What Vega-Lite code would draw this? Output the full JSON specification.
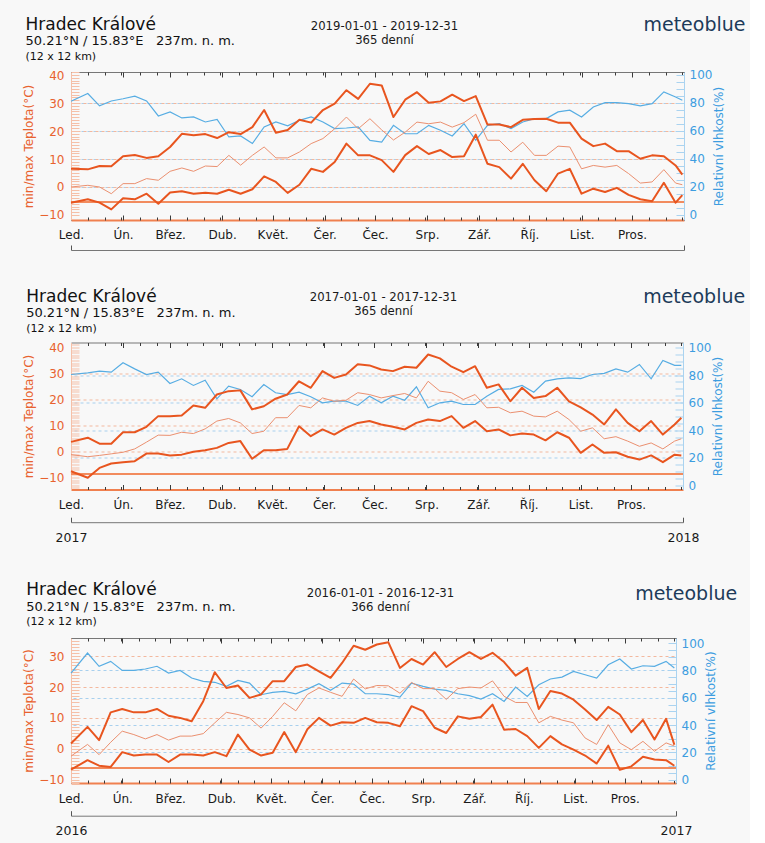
{
"$schema": "https://vega.github.io/schema/vega-lite/v6.json",
"background": "#f8f8f8",
"padding": {"left": 22, "top": 15, "right": 5, "bottom": 5},
"spacing": 35.5,
"config": {"view": {"stroke": null}, "font": "DejaVu Sans", "axis": {"labelFont": "DejaVu Sans", "titleFont": "DejaVu Sans", "titleFontWeight": "normal", "grid": false, "tickColor": "#3a3a3a"}},
"datasets": {
"p2019": [
{"d":"2019-01-01","mx":6.5,"me":0,"mn":-5.6,"h":81.2},
{"d":"2019-01-11","mx":6.3,"me":0.6,"mn":-4.4,"h":86.7},
{"d":"2019-01-18","mx":7.5,"me":0,"mn":-5.6,"h":77.9},
{"d":"2019-01-25","mx":7.4,"me":-2.4,"mn":-8,"h":81.4},
{"d":"2019-02-01","mx":11,"me":1.2,"mn":-4,"h":83},
{"d":"2019-02-08","mx":11.4,"me":1.2,"mn":-4.4,"h":84.8},
{"d":"2019-02-15","mx":10.4,"me":3,"mn":-2.4,"h":81.4},
{"d":"2019-02-22","mx":11,"me":2.4,"mn":-6,"h":70.7},
{"d":"2019-03-01","mx":14.3,"me":5.6,"mn":-2,"h":73.6},
{"d":"2019-03-08","mx":19,"me":6.8,"mn":-1.5,"h":69.3},
{"d":"2019-03-15","mx":18.5,"me":5.6,"mn":-2.4,"h":70},
{"d":"2019-03-22","mx":18.9,"me":7.5,"mn":-2.1,"h":66.4},
{"d":"2019-03-29","mx":17.5,"me":7.3,"mn":-2.4,"h":68.3},
{"d":"2019-04-05","mx":19.6,"me":11.3,"mn":-1,"h":55.7},
{"d":"2019-04-12","mx":18.9,"me":7.8,"mn":-2.4,"h":56.4},
{"d":"2019-04-19","mx":21.4,"me":11.3,"mn":-0.8,"h":51},
{"d":"2019-04-26","mx":27.5,"me":14.3,"mn":3.8,"h":62.9},
{"d":"2019-05-03","mx":19.4,"me":10.4,"mn":1.8,"h":66.4},
{"d":"2019-05-10","mx":20.4,"me":10.4,"mn":-2.1,"h":63.6},
{"d":"2019-05-17","mx":24,"me":12.5,"mn":0.8,"h":67.6},
{"d":"2019-05-24","mx":23,"me":15.5,"mn":6.5,"h":70},
{"d":"2019-05-31","mx":27.5,"me":17.3,"mn":5.4,"h":66.4},
{"d":"2019-06-07","mx":29.8,"me":20.8,"mn":8.9,"h":61.7},
{"d":"2019-06-14","mx":34.6,"me":25,"mn":15.5,"h":62.1},
{"d":"2019-06-21","mx":31.5,"me":20.8,"mn":11.3,"h":62.9},
{"d":"2019-06-28","mx":36.9,"me":24.4,"mn":11.3,"h":53.3},
{"d":"2019-07-05","mx":36.3,"me":20.4,"mn":9.6,"h":52.1},
{"d":"2019-07-12","mx":25,"me":16.8,"mn":5.4,"h":64},
{"d":"2019-07-19","mx":31.2,"me":19.6,"mn":11.4,"h":58},
{"d":"2019-07-26","mx":33.9,"me":23.2,"mn":14.6,"h":58},
{"d":"2019-08-02","mx":30.1,"me":22.6,"mn":11.8,"h":64},
{"d":"2019-08-09","mx":30.6,"me":23.2,"mn":13.2,"h":60.5},
{"d":"2019-08-16","mx":33,"me":21.4,"mn":10.7,"h":56.4},
{"d":"2019-08-23","mx":30.7,"me":23,"mn":11,"h":65.2},
{"d":"2019-08-30","mx":32.5,"me":26,"mn":18.7,"h":53.3},
{"d":"2019-09-06","mx":22.3,"me":16.7,"mn":8.3,"h":64},
{"d":"2019-09-13","mx":22.3,"me":16.7,"mn":7.1,"h":65.2},
{"d":"2019-09-20","mx":21.4,"me":12.5,"mn":3,"h":61.7},
{"d":"2019-09-27","mx":24,"me":16,"mn":8.3,"h":66.4},
{"d":"2019-10-04","mx":24.3,"me":11.3,"mn":2.4,"h":68.8},
{"d":"2019-10-11","mx":24.4,"me":11.3,"mn":-1.5,"h":68.8},
{"d":"2019-10-18","mx":23,"me":14.6,"mn":4.8,"h":73.6},
{"d":"2019-10-25","mx":23,"me":14.3,"mn":6.5,"h":74.8},
{"d":"2019-11-01","mx":17.3,"me":6.5,"mn":-2.4,"h":70},
{"d":"2019-11-08","mx":14.6,"me":7.7,"mn":-0.6,"h":77.1},
{"d":"2019-11-15","mx":15.5,"me":7.1,"mn":-1.8,"h":80.2},
{"d":"2019-11-22","mx":12.8,"me":7.7,"mn":-0.3,"h":80.2},
{"d":"2019-11-29","mx":12.8,"me":4.8,"mn":-2.8,"h":79.5},
{"d":"2019-12-06","mx":10.1,"me":1.4,"mn":-4.4,"h":77.9},
{"d":"2019-12-13","mx":11.3,"me":1.8,"mn":-5.1,"h":79.5},
{"d":"2019-12-20","mx":11,"me":6.2,"mn":1.5,"h":87.9},
{"d":"2019-12-27","mx":7.7,"me":1.4,"mn":-5.6,"h":84.3},
{"d":"2019-12-31","mx":4.4,"me":0.8,"mn":-2.9,"h":81.9}
],
"p2017": [
{"d":"2017-01-01","mx":3.7,"me":-1.2,"mn":-7.6,"h":80.4},
{"d":"2017-01-11","mx":5.3,"me":-2,"mn":-10.1,"h":81.6},
{"d":"2017-01-18","mx":3,"me":-1.5,"mn":-6.3,"h":82.8},
{"d":"2017-01-25","mx":3,"me":-0.9,"mn":-4.6,"h":82.1},
{"d":"2017-02-01","mx":7.4,"me":-0.3,"mn":-4.1,"h":88.9},
{"d":"2017-02-08","mx":7.4,"me":1,"mn":-3.7,"h":84.5},
{"d":"2017-02-15","mx":9.5,"me":3.6,"mn":-0.8,"h":80.4},
{"d":"2017-02-22","mx":13.6,"me":6.3,"mn":-0.8,"h":82.1},
{"d":"2017-03-01","mx":13.6,"me":6.2,"mn":-1.5,"h":73.9},
{"d":"2017-03-08","mx":13.8,"me":7.4,"mn":-1.2,"h":77.3},
{"d":"2017-03-15","mx":17.7,"me":6.9,"mn":-0.1,"h":72.5},
{"d":"2017-03-22","mx":16.8,"me":8.7,"mn":0.5,"h":76.3},
{"d":"2017-03-29","mx":21.9,"me":11.7,"mn":1.4,"h":62.8},
{"d":"2017-04-05","mx":23.2,"me":12.7,"mn":3.3,"h":72},
{"d":"2017-04-12","mx":23.5,"me":11,"mn":4,"h":69.6},
{"d":"2017-04-19","mx":16.2,"me":6.9,"mn":-2.8,"h":64.3},
{"d":"2017-04-26","mx":17.4,"me":7.8,"mn":0.5,"h":73.2},
{"d":"2017-05-03","mx":20.3,"me":13,"mn":0.5,"h":67.2},
{"d":"2017-05-10","mx":21.9,"me":13,"mn":1,"h":65.9},
{"d":"2017-05-17","mx":27,"me":17.7,"mn":9.7,"h":67.6},
{"d":"2017-05-24","mx":24.5,"me":16.8,"mn":5.9,"h":64.3},
{"d":"2017-05-31","mx":30.9,"me":20.6,"mn":8.5,"h":59.9},
{"d":"2017-06-07","mx":28.3,"me":19.3,"mn":6.5,"h":61.1},
{"d":"2017-06-14","mx":29.6,"me":19.7,"mn":9.1,"h":61.1},
{"d":"2017-06-21","mx":33.5,"me":22.6,"mn":11,"h":58},
{"d":"2017-06-28","mx":33.1,"me":21.9,"mn":11.7,"h":64.7},
{"d":"2017-07-05","mx":31.5,"me":20.6,"mn":10.4,"h":59.9},
{"d":"2017-07-12","mx":30.9,"me":21.5,"mn":9.5,"h":64.7},
{"d":"2017-07-19","mx":32.6,"me":22.3,"mn":8.5,"h":61.8},
{"d":"2017-07-26","mx":32.2,"me":20.6,"mn":11,"h":71.5},
{"d":"2017-08-02","mx":37.3,"me":27,"mn":12.3,"h":56.3},
{"d":"2017-08-09","mx":35.8,"me":23.2,"mn":11.7,"h":59.9},
{"d":"2017-08-16","mx":32.6,"me":22.6,"mn":13.6,"h":61.1},
{"d":"2017-08-23","mx":30.5,"me":20,"mn":9.1,"h":58.7},
{"d":"2017-08-30","mx":32.8,"me":21.9,"mn":11.7,"h":58.7},
{"d":"2017-09-06","mx":24.5,"me":16.8,"mn":7.8,"h":64.7},
{"d":"2017-09-13","mx":25.8,"me":17,"mn":8.5,"h":69.6},
{"d":"2017-09-20","mx":19.3,"me":14.9,"mn":6.2,"h":70},
{"d":"2017-09-27","mx":24.5,"me":15.5,"mn":6.9,"h":72.5},
{"d":"2017-10-04","mx":20.6,"me":13.6,"mn":6.5,"h":67.6},
{"d":"2017-10-11","mx":21.3,"me":13.3,"mn":4.3,"h":75.6},
{"d":"2017-10-18","mx":24.5,"me":15.5,"mn":7.4,"h":77.3},
{"d":"2017-10-25","mx":19.3,"me":12.3,"mn":5.3,"h":78},
{"d":"2017-11-01","mx":17,"me":7.8,"mn":-0.5,"h":77.5},
{"d":"2017-11-08","mx":14.2,"me":9.1,"mn":2.7,"h":80.4},
{"d":"2017-11-15","mx":10.4,"me":4.9,"mn":-0.5,"h":81.2},
{"d":"2017-11-22","mx":16.2,"me":5.7,"mn":-0.3,"h":84.5},
{"d":"2017-11-29","mx":11,"me":4,"mn":-2,"h":82.1},
{"d":"2017-12-06","mx":7.8,"me":2,"mn":-3.1,"h":87.7},
{"d":"2017-12-13","mx":11.7,"me":3.3,"mn":-1.5,"h":77.3},
{"d":"2017-12-20","mx":6.5,"me":1,"mn":-4.1,"h":90.6},
{"d":"2017-12-27","mx":10.4,"me":4,"mn":-1.2,"h":87},
{"d":"2017-12-31","mx":13,"me":4.9,"mn":-1.5,"h":87}
],
"p2016": [
{"d":"2016-01-01","mx":1.7,"me":-2.4,"mn":-6.8,"h":78},
{"d":"2016-01-11","mx":7.1,"me":1.4,"mn":-3.7,"h":92.7},
{"d":"2016-01-18","mx":2.8,"me":-1.9,"mn":-5.5,"h":83},
{"d":"2016-01-25","mx":11.8,"me":2.1,"mn":-5.9,"h":86.6},
{"d":"2016-02-01","mx":12.9,"me":5.7,"mn":-1.1,"h":80},
{"d":"2016-02-08","mx":11.8,"me":4.6,"mn":-2.2,"h":80},
{"d":"2016-02-15","mx":11.8,"me":3.2,"mn":-1.9,"h":81},
{"d":"2016-02-22","mx":12.9,"me":4.6,"mn":-1.9,"h":83},
{"d":"2016-02-29","mx":10.7,"me":2.8,"mn":-4.3,"h":78},
{"d":"2016-03-07","mx":10,"me":4.1,"mn":-1.9,"h":80},
{"d":"2016-03-14","mx":8.9,"me":4.1,"mn":-1.9,"h":74.4},
{"d":"2016-03-21","mx":15.4,"me":4.9,"mn":-2.2,"h":72},
{"d":"2016-03-28","mx":24.8,"me":8.4,"mn":-1.1,"h":71.3},
{"d":"2016-04-04","mx":19.7,"me":11.8,"mn":-2.4,"h":68.3},
{"d":"2016-04-11","mx":20.5,"me":11.1,"mn":4.6,"h":72.7},
{"d":"2016-04-18","mx":16.5,"me":10,"mn":-0.3,"h":70.7},
{"d":"2016-04-25","mx":17.6,"me":6.7,"mn":-2.2,"h":62.2},
{"d":"2016-05-02","mx":21.9,"me":10.5,"mn":-1.3,"h":63.9},
{"d":"2016-05-09","mx":21.9,"me":14.9,"mn":5.4,"h":64.7},
{"d":"2016-05-16","mx":26.5,"me":12.3,"mn":-1.1,"h":62.9},
{"d":"2016-05-23","mx":27.3,"me":17.6,"mn":6.3,"h":66.3},
{"d":"2016-05-30","mx":25.1,"me":19.7,"mn":10,"h":70.2},
{"d":"2016-06-06","mx":23,"me":18.3,"mn":7.5,"h":65.4},
{"d":"2016-06-13","mx":27.8,"me":17,"mn":8.6,"h":70.7},
{"d":"2016-06-20","mx":33.4,"me":22.6,"mn":8.4,"h":70},
{"d":"2016-06-27","mx":32.1,"me":19.4,"mn":10,"h":62.9},
{"d":"2016-07-04","mx":33.8,"me":20.5,"mn":8.6,"h":62.9},
{"d":"2016-07-11","mx":34.5,"me":20.4,"mn":8.4,"h":62.2},
{"d":"2016-07-18","mx":26.2,"me":18,"mn":7.3,"h":60.5},
{"d":"2016-07-25","mx":29.1,"me":21.5,"mn":13.8,"h":70.7},
{"d":"2016-08-01","mx":27.3,"me":19.5,"mn":12.2,"h":68.3},
{"d":"2016-08-08","mx":31.3,"me":19.5,"mn":6.8,"h":66.3},
{"d":"2016-08-15","mx":26.5,"me":16,"mn":5.1,"h":65.4},
{"d":"2016-08-22","mx":29.1,"me":19.5,"mn":10.5,"h":62.9},
{"d":"2016-08-29","mx":31.3,"me":20,"mn":9.7,"h":61.5},
{"d":"2016-09-05","mx":29.1,"me":19.7,"mn":10.3,"h":59},
{"d":"2016-09-12","mx":31.1,"me":22,"mn":14.3,"h":62.9},
{"d":"2016-09-19","mx":28.1,"me":17,"mn":6.2,"h":57.3},
{"d":"2016-09-26","mx":23.7,"me":15,"mn":6.4,"h":67.8},
{"d":"2016-10-03","mx":26.2,"me":15,"mn":4.1,"h":61},
{"d":"2016-10-10","mx":12.9,"me":8.4,"mn":0.3,"h":69.5},
{"d":"2016-10-17","mx":18.7,"me":10.5,"mn":4.1,"h":73.7},
{"d":"2016-10-24","mx":17.9,"me":9.3,"mn":1.4,"h":75.1},
{"d":"2016-10-31","mx":15.9,"me":8.4,"mn":-0.3,"h":79.3},
{"d":"2016-11-07","mx":12.7,"me":3.5,"mn":-2.2,"h":76.8},
{"d":"2016-11-14","mx":9.3,"me":1.4,"mn":-4.8,"h":74.4},
{"d":"2016-11-21","mx":13.6,"me":7.8,"mn":1,"h":84.1},
{"d":"2016-11-28","mx":11.1,"me":1.9,"mn":-6.8,"h":88.3},
{"d":"2016-12-05","mx":5.4,"me":-0.3,"mn":-5.7,"h":81},
{"d":"2016-12-12","mx":9.3,"me":2.4,"mn":-2.6,"h":83.4},
{"d":"2016-12-19","mx":3,"me":-0.8,"mn":-3.5,"h":83},
{"d":"2016-12-26","mx":9.7,"me":1.9,"mn":-3.7,"h":86.6},
{"d":"2016-12-31","mx":1.3,"me":0.9,"mn":-5.5,"h":81.7}
]
},
"vconcat": [
{
"width": 613, "height": 148,
"data": {"name": "p2019"},
"resolve": {"scale": {"y": "independent"}, "axis": {"x": "independent", "y": "independent"}},
"layer": [
{"mark": {"type": "rule", "color": "#f28b5e", "strokeWidth": 1.5},
 "encoding": {"x": {"datum": 1546300800000, "type": "temporal", "scale": {"type": "utc", "domain": [1546300800000, 1577836800000]}, "axis": null}, "x2": {"datum": 1577836800000}, "y": {"datum": -5.5, "type": "quantitative", "scale": {"domain": [-11.8, 41.1], "nice": false, "zero": false}, "axis": null}}},
{"mark": {"type": "line", "color": "#57ade3", "strokeWidth": 1.2},
 "encoding": {
  "x": {"field": "d", "type": "temporal", "scale": {"type": "utc", "domain": [1546300800000, 1577836800000]}, "axis": {"orient": "bottom", "tickCount": {"interval": "month", "step": 1}, "tickSize": -5, "domain": false, "labels": false, "title": null}},
  "y": {"field": "h", "type": "quantitative", "scale": {"domain": [-3.6, 102.1], "nice": false, "zero": false}, "axis": {"orient": "right", "values": [0, 20, 40, 60, 80, 100], "ticks": false, "domain": false, "labelColor": "#3d9de0", "labelFontSize": 12, "labelPadding": 5, "title": "Relativní vlhkost(%)", "titleColor": "#3d9de0", "titleFontSize": 12, "titleAngle": 270, "titleBaseline": "top", "titlePadding": 2, "grid": true, "gridColor": "#a8d0ee", "gridDash": [3, 3], "gridOpacity": {"condition": {"test": "datum.value == 0 || datum.value == 100", "value": 0}, "value": 1}}}}},
{"mark": {"type": "line", "color": "#eb9070", "strokeWidth": 1},
 "encoding": {
  "x": {"field": "d", "type": "temporal", "scale": {"type": "utc", "domain": [1546300800000, 1577836800000]}, "axis": {"orient": "top", "tickCount": {"interval": "month", "step": 1}, "tickSize": -5, "domainColor": "#777777", "labels": false, "title": ["2019-01-01 - 2019-12-31", "365 denní"], "titleFontSize": 11.7, "titleColor": "#1a1a1a", "titleX": 313, "titleY": -42.7, "titleAlign": "center", "titleBaseline": "alphabetic", "titleLineHeight": 14.5}},
  "y": {"field": "me", "type": "quantitative", "scale": {"domain": [-11.8, 41.1], "nice": false, "zero": false}, "axis": {"orient": "left", "values": [-10,-9,-8,-7,-6,-5,-4,-3,-2,-1,0,1,2,3,4,5,6,7,8,9,10,11,12,13,14,15,16,17,18,19,20,21,22,23,24,25,26,27,28,29,30,31,32,33,34,35,36,37,38,39,40,41], "tickSize": -8, "tickColor": "#f5c0a8", "domainColor": "#f5c0a8", "labels": false, "title": null}}}},
{"mark": {"type": "line", "color": "#e8551f", "strokeWidth": 2, "strokeJoin": "round"},
 "encoding": {
  "x": {"field": "d", "type": "temporal", "scale": {"type": "utc", "domain": [1546300800000, 1577836800000]}, "axis": {"orient": "bottom", "tickCount": {"interval": "month", "step": 1}, "ticks": false, "domainColor": "#f0804f", "domainWidth": 2, "labelExpr": "utcyear(datum.value) > 2019 ? '' : ['Led.','Ún.','Břez.','Dub.','Květ.','Čer.','Čec.','Srp.','Zář.','Říj.','List.','Pros.'][utcmonth(datum.value)]", "labelFlush": false, "labelOverlap": false, "labelPadding": 9, "labelFontSize": 12, "labelColor": "#1a1a1a", "title": null}},
  "y": {"field": "mx", "type": "quantitative", "scale": {"domain": [-11.8, 41.1], "nice": false, "zero": false}, "axis": {"orient": "left", "values": [-10, 0, 10, 20, 30, 40], "ticks": false, "domain": false, "labelColor": "#e8622f", "labelFontSize": 12, "labelPadding": 7, "title": "min/max Teplota(°C)", "titleColor": "#e8622f", "titleFontSize": 12, "titlePadding": 3, "grid": true, "gridColor": "#f3b89e", "gridDash": [3, 3], "gridOpacity": {"condition": {"test": "datum.value == -10 || datum.value == 40", "value": 0}, "value": 1}}}}},
{"mark": {"type": "line", "color": "#e8551f", "strokeWidth": 2, "strokeJoin": "round"},
 "encoding": {
  "x": {"field": "d", "type": "temporal", "scale": {"type": "utc", "domain": [1546300800000, 1577836800000]}, "axis": {"orient": "top", "tickCount": {"interval": "day", "step": 10}, "tickSize": -3, "domain": false, "labels": false, "title": null}},
  "y": {"field": "mn", "type": "quantitative", "scale": {"domain": [-11.8, 41.1], "nice": false, "zero": false}, "axis": null}}},
{"mark": {"type": "point", "opacity": 0},
 "encoding": {
  "x": {"field": "d", "type": "temporal", "scale": {"type": "utc", "domain": [1546300800000, 1577836800000]}, "axis": {"orient": "bottom", "tickCount": {"interval": "day", "step": 10}, "tickSize": -3, "domain": false, "labels": false, "title": null}},
  "y": {"field": "h", "type": "quantitative", "scale": {"domain": [-3.6, 102.1], "nice": false, "zero": false}, "axis": {"orient": "right", "values": [0,5,10,15,20,25,30,35,40,45,50,55,60,65,70,75,80,85,90,95,100], "tickSize": -8, "tickColor": "#aad3f0", "domainColor": "#aad3f0", "labels": false, "title": null}}}},
{"mark": {"type": "point", "opacity": 0},
 "encoding": {"x": {"field": "d", "type": "temporal", "scale": {"type": "utc", "domain": [1546300800000, 1577836800000]}, "axis": {"orient": "bottom", "offset": 30, "values": [1546300800000, 1577836800000], "tickSize": -5, "tickColor": "#555555", "domainColor": "#777777", "labels": false, "title": null}},
  "y": {"field": "h", "type": "quantitative", "scale": {"domain": [-3.6, 102.1], "nice": false, "zero": false}, "axis": null}}},
{"mark": {"type": "point", "opacity": 0},
 "encoding": {"x": {"field": "d", "type": "temporal", "scale": {"type": "utc", "domain": [1546300800000, 1577836800000]}, "axis": {"orient": "top", "domain": false, "ticks": false, "labels": false, "title": "meteoblue", "titleX": 674, "titleY": -42, "titleAlign": "right", "titleBaseline": "alphabetic", "titleFontSize": 19, "titleColor": "#1d3b5a"}},
  "y": {"field": "h", "type": "quantitative", "scale": {"domain": [-3.6, 102.1], "nice": false, "zero": false}, "axis": null}}},
{"mark": {"type": "point", "opacity": 0},
 "encoding": {"x": {"field": "d", "type": "temporal", "scale": {"type": "utc", "domain": [1546300800000, 1577836800000]}, "axis": {"orient": "top", "domain": false, "ticks": false, "labels": false, "title": "Hradec Králové", "titleX": -46, "titleY": -43, "titleAlign": "left", "titleBaseline": "alphabetic", "titleFontSize": 17, "titleColor": "#111111"}},
  "y": {"field": "h", "type": "quantitative", "scale": {"domain": [-3.6, 102.1], "nice": false, "zero": false}, "axis": null}}},
{"mark": {"type": "point", "opacity": 0},
 "encoding": {"x": {"field": "d", "type": "temporal", "scale": {"type": "utc", "domain": [1546300800000, 1577836800000]}, "axis": {"orient": "top", "domain": false, "ticks": false, "labels": false, "title": "50.21°N / 15.83°E\u00a0\u00a0\u00a0237m. n. m.", "titleX": -46, "titleY": -27.3, "titleAlign": "left", "titleBaseline": "alphabetic", "titleFontSize": 13, "titleColor": "#111111"}},
  "y": {"field": "h", "type": "quantitative", "scale": {"domain": [-3.6, 102.1], "nice": false, "zero": false}, "axis": null}}},
{"mark": {"type": "point", "opacity": 0},
 "encoding": {"x": {"field": "d", "type": "temporal", "scale": {"type": "utc", "domain": [1546300800000, 1577836800000]}, "axis": {"orient": "top", "domain": false, "ticks": false, "labels": false, "title": "(12 x 12 km)", "titleX": -46, "titleY": -12.8, "titleAlign": "left", "titleBaseline": "alphabetic", "titleFontSize": 11, "titleColor": "#111111"}},
  "y": {"field": "h", "type": "quantitative", "scale": {"domain": [-3.6, 102.1], "nice": false, "zero": false}, "axis": null}}}
]
},
{
"width": 612, "height": 147,
"data": {"name": "p2017"},
"resolve": {"scale": {"y": "independent"}, "axis": {"x": "independent", "y": "independent"}},
"layer": [
{"mark": {"type": "rule", "color": "#f28b5e", "strokeWidth": 1.5},
 "encoding": {"x": {"datum": 1483228800000, "type": "temporal", "scale": {"type": "utc", "domain": [1483228800000, 1514764800000]}, "axis": null}, "x2": {"datum": 1514764800000}, "y": {"datum": -8.6, "type": "quantitative", "scale": {"domain": [-14.6, 41.9], "nice": false, "zero": false}, "axis": null}}},
{"mark": {"type": "line", "color": "#57ade3", "strokeWidth": 1.2},
 "encoding": {
  "x": {"field": "d", "type": "temporal", "scale": {"type": "utc", "domain": [1483228800000, 1514764800000]}, "axis": {"orient": "bottom", "tickCount": {"interval": "month", "step": 1}, "tickSize": -5, "domain": false, "labels": false, "title": null}},
  "y": {"field": "h", "type": "quantitative", "scale": {"domain": [-2.9, 103.6], "nice": false, "zero": false}, "axis": {"orient": "right", "values": [0, 20, 40, 60, 80, 100], "ticks": false, "domain": false, "labelColor": "#3d9de0", "labelFontSize": 12, "labelPadding": 5, "title": "Relativní vlhkost(%)", "titleColor": "#3d9de0", "titleFontSize": 12, "titleAngle": 270, "titleBaseline": "top", "titlePadding": 2, "grid": true, "gridColor": "#a8d0ee", "gridDash": [3, 3], "gridOpacity": {"condition": {"test": "datum.value == 0 || datum.value == 100", "value": 0}, "value": 1}}}}},
{"mark": {"type": "line", "color": "#eb9070", "strokeWidth": 1},
 "encoding": {
  "x": {"field": "d", "type": "temporal", "scale": {"type": "utc", "domain": [1483228800000, 1514764800000]}, "axis": {"orient": "top", "tickCount": {"interval": "month", "step": 1}, "tickSize": -5, "domainColor": "#777777", "labels": false, "title": ["2017-01-01 - 2017-12-31", "365 denní"], "titleFontSize": 11.7, "titleColor": "#1a1a1a", "titleX": 312, "titleY": -42.3, "titleAlign": "center", "titleBaseline": "alphabetic", "titleLineHeight": 14.3}},
  "y": {"field": "me", "type": "quantitative", "scale": {"domain": [-14.6, 41.9], "nice": false, "zero": false}, "axis": {"orient": "left", "values": [-14,-13,-12,-11,-10,-9,-8,-7,-6,-5,-4,-3,-2,-1,0,1,2,3,4,5,6,7,8,9,10,11,12,13,14,15,16,17,18,19,20,21,22,23,24,25,26,27,28,29,30,31,32,33,34,35,36,37,38,39,40,41], "tickSize": -8, "tickColor": "#f5c0a8", "domainColor": "#f5c0a8", "labels": false, "title": null}}}},
{"mark": {"type": "line", "color": "#e8551f", "strokeWidth": 2, "strokeJoin": "round"},
 "encoding": {
  "x": {"field": "d", "type": "temporal", "scale": {"type": "utc", "domain": [1483228800000, 1514764800000]}, "axis": {"orient": "bottom", "tickCount": {"interval": "month", "step": 1}, "ticks": false, "domainColor": "#f0804f", "domainWidth": 2, "labelExpr": "utcyear(datum.value) > 2017 ? '' : ['Led.','Ún.','Břez.','Dub.','Květ.','Čer.','Čec.','Srp.','Zář.','Říj.','List.','Pros.'][utcmonth(datum.value)]", "labelFlush": false, "labelOverlap": false, "labelPadding": 10, "labelFontSize": 12, "labelColor": "#1a1a1a", "title": null}},
  "y": {"field": "mx", "type": "quantitative", "scale": {"domain": [-14.6, 41.9], "nice": false, "zero": false}, "axis": {"orient": "left", "values": [-10, 0, 10, 20, 30, 40], "ticks": false, "domain": false, "labelColor": "#e8622f", "labelFontSize": 12, "labelPadding": 7, "title": "min/max Teplota(°C)", "titleColor": "#e8622f", "titleFontSize": 12, "titlePadding": 3, "grid": true, "gridColor": "#f3b89e", "gridDash": [3, 3], "gridOpacity": {"condition": {"test": "datum.value == -10 || datum.value == 40", "value": 0}, "value": 1}}}}},
{"mark": {"type": "line", "color": "#e8551f", "strokeWidth": 2, "strokeJoin": "round"},
 "encoding": {
  "x": {"field": "d", "type": "temporal", "scale": {"type": "utc", "domain": [1483228800000, 1514764800000]}, "axis": {"orient": "top", "tickCount": {"interval": "day", "step": 10}, "tickSize": -3, "domain": false, "labels": false, "title": null}},
  "y": {"field": "mn", "type": "quantitative", "scale": {"domain": [-14.6, 41.9], "nice": false, "zero": false}, "axis": null}}},
{"mark": {"type": "point", "opacity": 0},
 "encoding": {
  "x": {"field": "d", "type": "temporal", "scale": {"type": "utc", "domain": [1483228800000, 1514764800000]}, "axis": {"orient": "bottom", "tickCount": {"interval": "day", "step": 10}, "tickSize": -3, "domain": false, "labels": false, "title": null}},
  "y": {"field": "h", "type": "quantitative", "scale": {"domain": [-2.9, 103.6], "nice": false, "zero": false}, "axis": {"orient": "right", "values": [0,5,10,15,20,25,30,35,40,45,50,55,60,65,70,75,80,85,90,95,100], "tickSize": -8, "tickColor": "#aad3f0", "domainColor": "#aad3f0", "labels": false, "title": null}}}},
{"mark": {"type": "point", "opacity": 0},
 "encoding": {"x": {"field": "d", "type": "temporal", "scale": {"type": "utc", "domain": [1483228800000, 1514764800000]}, "axis": {"orient": "bottom", "offset": 32.7, "values": [1483228800000, 1514764800000], "tickSize": -5, "tickColor": "#555555", "domainColor": "#777777", "labels": false, "title": null}},
  "y": {"field": "h", "type": "quantitative", "scale": {"domain": [-2.9, 103.6], "nice": false, "zero": false}, "axis": null}}},
{"mark": {"type": "point", "opacity": 0},
 "encoding": {"x": {"field": "d", "type": "temporal", "scale": {"type": "utc", "domain": [1483228800000, 1514764800000]}, "axis": {"orient": "bottom", "offset": 32.7, "values": [1483228800000, 1514764800000], "ticks": false, "domain": false, "labelExpr": "utcFormat(datum.value, '%Y')", "labelFlush": false, "labelOverlap": false, "labelBound": false, "labelPadding": 9, "labelFontSize": 12.5, "labelColor": "#1a1a1a", "title": null}},
  "y": {"field": "h", "type": "quantitative", "scale": {"domain": [-2.9, 103.6], "nice": false, "zero": false}, "axis": null}}},
{"mark": {"type": "point", "opacity": 0},
 "encoding": {"x": {"field": "d", "type": "temporal", "scale": {"type": "utc", "domain": [1483228800000, 1514764800000]}, "axis": {"orient": "top", "domain": false, "ticks": false, "labels": false, "title": "meteoblue", "titleX": 673.7, "titleY": -39.7, "titleAlign": "right", "titleBaseline": "alphabetic", "titleFontSize": 19, "titleColor": "#1d3b5a"}},
  "y": {"field": "h", "type": "quantitative", "scale": {"domain": [-2.9, 103.6], "nice": false, "zero": false}, "axis": null}}},
{"mark": {"type": "point", "opacity": 0},
 "encoding": {"x": {"field": "d", "type": "temporal", "scale": {"type": "utc", "domain": [1483228800000, 1514764800000]}, "axis": {"orient": "top", "domain": false, "ticks": false, "labels": false, "title": "Hradec Králové", "titleX": -45.3, "titleY": -41.3, "titleAlign": "left", "titleBaseline": "alphabetic", "titleFontSize": 17, "titleColor": "#111111"}},
  "y": {"field": "h", "type": "quantitative", "scale": {"domain": [-2.9, 103.6], "nice": false, "zero": false}, "axis": null}}},
{"mark": {"type": "point", "opacity": 0},
 "encoding": {"x": {"field": "d", "type": "temporal", "scale": {"type": "utc", "domain": [1483228800000, 1514764800000]}, "axis": {"orient": "top", "domain": false, "ticks": false, "labels": false, "title": "50.21°N / 15.83°E\u00a0\u00a0\u00a0237m. n. m.", "titleX": -45.3, "titleY": -26, "titleAlign": "left", "titleBaseline": "alphabetic", "titleFontSize": 13, "titleColor": "#111111"}},
  "y": {"field": "h", "type": "quantitative", "scale": {"domain": [-2.9, 103.6], "nice": false, "zero": false}, "axis": null}}},
{"mark": {"type": "point", "opacity": 0},
 "encoding": {"x": {"field": "d", "type": "temporal", "scale": {"type": "utc", "domain": [1483228800000, 1514764800000]}, "axis": {"orient": "top", "domain": false, "ticks": false, "labels": false, "title": "(12 x 12 km)", "titleX": -45.3, "titleY": -11.5, "titleAlign": "left", "titleBaseline": "alphabetic", "titleFontSize": 11, "titleColor": "#111111"}},
  "y": {"field": "h", "type": "quantitative", "scale": {"domain": [-2.9, 103.6], "nice": false, "zero": false}, "axis": null}}}
]
},
{
"width": 605, "height": 145,
"data": {"name": "p2016"},
"resolve": {"scale": {"y": "independent"}, "axis": {"x": "independent", "y": "independent"}},
"layer": [
{"mark": {"type": "rule", "color": "#f28b5e", "strokeWidth": 1.5},
 "encoding": {"x": {"datum": 1451606400000, "type": "temporal", "scale": {"type": "utc", "domain": [1451606400000, 1483228800000]}, "axis": null}, "x2": {"datum": 1483228800000}, "y": {"datum": -6.2, "type": "quantitative", "scale": {"domain": [-11.1, 35.9], "nice": false, "zero": false}, "axis": null}}},
{"mark": {"type": "line", "color": "#57ade3", "strokeWidth": 1.2},
 "encoding": {
  "x": {"field": "d", "type": "temporal", "scale": {"type": "utc", "domain": [1451606400000, 1483228800000]}, "axis": {"orient": "bottom", "tickCount": {"interval": "month", "step": 1}, "tickSize": -5, "domain": false, "labels": false, "title": null}},
  "y": {"field": "h", "type": "quantitative", "scale": {"domain": [-2.4, 103.7], "nice": false, "zero": false}, "axis": {"orient": "right", "values": [0, 20, 40, 60, 80, 100], "ticks": false, "domain": false, "labelColor": "#3d9de0", "labelFontSize": 12, "labelPadding": 5, "title": "Relativní vlhkost(%)", "titleColor": "#3d9de0", "titleFontSize": 12, "titleAngle": 270, "titleBaseline": "top", "titlePadding": 2, "grid": true, "gridColor": "#a8d0ee", "gridDash": [3, 3], "gridOpacity": {"condition": {"test": "datum.value == 0 || datum.value == 100", "value": 0}, "value": 1}}}}},
{"mark": {"type": "line", "color": "#eb9070", "strokeWidth": 1},
 "encoding": {
  "x": {"field": "d", "type": "temporal", "scale": {"type": "utc", "domain": [1451606400000, 1483228800000]}, "axis": {"orient": "top", "tickCount": {"interval": "month", "step": 1}, "tickSize": -5, "domainColor": "#777777", "labels": false, "title": ["2016-01-01 - 2016-12-31", "366 denní"], "titleFontSize": 11.7, "titleColor": "#1a1a1a", "titleX": 309, "titleY": -41.7, "titleAlign": "center", "titleBaseline": "alphabetic", "titleLineHeight": 14}},
  "y": {"field": "me", "type": "quantitative", "scale": {"domain": [-11.1, 35.9], "nice": false, "zero": false}, "axis": {"orient": "left", "values": [-11,-10,-9,-8,-7,-6,-5,-4,-3,-2,-1,0,1,2,3,4,5,6,7,8,9,10,11,12,13,14,15,16,17,18,19,20,21,22,23,24,25,26,27,28,29,30,31,32,33,34,35], "tickSize": -8, "tickColor": "#f5c0a8", "domainColor": "#f5c0a8", "labels": false, "title": null}}}},
{"mark": {"type": "line", "color": "#e8551f", "strokeWidth": 2, "strokeJoin": "round"},
 "encoding": {
  "x": {"field": "d", "type": "temporal", "scale": {"type": "utc", "domain": [1451606400000, 1483228800000]}, "axis": {"orient": "bottom", "tickCount": {"interval": "month", "step": 1}, "ticks": false, "domainColor": "#f0804f", "domainWidth": 2, "labelExpr": "utcyear(datum.value) > 2016 ? '' : ['Led.','Ún.','Břez.','Dub.','Květ.','Čer.','Čec.','Srp.','Zář.','Říj.','List.','Pros.'][utcmonth(datum.value)]", "labelFlush": false, "labelOverlap": false, "labelPadding": 10, "labelFontSize": 12, "labelColor": "#1a1a1a", "title": null}},
  "y": {"field": "mx", "type": "quantitative", "scale": {"domain": [-11.1, 35.9], "nice": false, "zero": false}, "axis": {"orient": "left", "values": [-10, 0, 10, 20, 30], "ticks": false, "domain": false, "labelColor": "#e8622f", "labelFontSize": 12, "labelPadding": 7, "title": "min/max Teplota(°C)", "titleColor": "#e8622f", "titleFontSize": 12, "titlePadding": 3, "grid": true, "gridColor": "#f3b89e", "gridDash": [3, 3], "gridOpacity": {"condition": {"test": "datum.value == -10 || datum.value == 40", "value": 0}, "value": 1}}}}},
{"mark": {"type": "line", "color": "#e8551f", "strokeWidth": 2, "strokeJoin": "round"},
 "encoding": {
  "x": {"field": "d", "type": "temporal", "scale": {"type": "utc", "domain": [1451606400000, 1483228800000]}, "axis": {"orient": "top", "tickCount": {"interval": "day", "step": 10}, "tickSize": -3, "domain": false, "labels": false, "title": null}},
  "y": {"field": "mn", "type": "quantitative", "scale": {"domain": [-11.1, 35.9], "nice": false, "zero": false}, "axis": null}}},
{"mark": {"type": "point", "opacity": 0},
 "encoding": {
  "x": {"field": "d", "type": "temporal", "scale": {"type": "utc", "domain": [1451606400000, 1483228800000]}, "axis": {"orient": "bottom", "tickCount": {"interval": "day", "step": 10}, "tickSize": -3, "domain": false, "labels": false, "title": null}},
  "y": {"field": "h", "type": "quantitative", "scale": {"domain": [-2.4, 103.7], "nice": false, "zero": false}, "axis": {"orient": "right", "values": [0,5,10,15,20,25,30,35,40,45,50,55,60,65,70,75,80,85,90,95,100], "tickSize": -8, "tickColor": "#aad3f0", "domainColor": "#aad3f0", "labels": false, "title": null}}}},
{"mark": {"type": "point", "opacity": 0},
 "encoding": {"x": {"field": "d", "type": "temporal", "scale": {"type": "utc", "domain": [1451606400000, 1483228800000]}, "axis": {"orient": "bottom", "offset": 32.7, "values": [1451606400000, 1483228800000], "tickSize": -5, "tickColor": "#555555", "domainColor": "#777777", "labels": false, "title": null}},
  "y": {"field": "h", "type": "quantitative", "scale": {"domain": [-2.4, 103.7], "nice": false, "zero": false}, "axis": null}}},
{"mark": {"type": "point", "opacity": 0},
 "encoding": {"x": {"field": "d", "type": "temporal", "scale": {"type": "utc", "domain": [1451606400000, 1483228800000]}, "axis": {"orient": "bottom", "offset": 32.7, "values": [1451606400000, 1483228800000], "ticks": false, "domain": false, "labelExpr": "utcFormat(datum.value, '%Y')", "labelFlush": false, "labelOverlap": false, "labelBound": false, "labelPadding": 9, "labelFontSize": 12.5, "labelColor": "#1a1a1a", "title": null}},
  "y": {"field": "h", "type": "quantitative", "scale": {"domain": [-2.4, 103.7], "nice": false, "zero": false}, "axis": null}}},
{"mark": {"type": "point", "opacity": 0},
 "encoding": {"x": {"field": "d", "type": "temporal", "scale": {"type": "utc", "domain": [1451606400000, 1483228800000]}, "axis": {"orient": "top", "domain": false, "ticks": false, "labels": false, "title": "meteoblue", "titleX": 665.7, "titleY": -39, "titleAlign": "right", "titleBaseline": "alphabetic", "titleFontSize": 19, "titleColor": "#1d3b5a"}},
  "y": {"field": "h", "type": "quantitative", "scale": {"domain": [-2.4, 103.7], "nice": false, "zero": false}, "axis": null}}},
{"mark": {"type": "point", "opacity": 0},
 "encoding": {"x": {"field": "d", "type": "temporal", "scale": {"type": "utc", "domain": [1451606400000, 1483228800000]}, "axis": {"orient": "top", "domain": false, "ticks": false, "labels": false, "title": "Hradec Králové", "titleX": -45.3, "titleY": -43.2, "titleAlign": "left", "titleBaseline": "alphabetic", "titleFontSize": 17, "titleColor": "#111111"}},
  "y": {"field": "h", "type": "quantitative", "scale": {"domain": [-2.4, 103.7], "nice": false, "zero": false}, "axis": null}}},
{"mark": {"type": "point", "opacity": 0},
 "encoding": {"x": {"field": "d", "type": "temporal", "scale": {"type": "utc", "domain": [1451606400000, 1483228800000]}, "axis": {"orient": "top", "domain": false, "ticks": false, "labels": false, "title": "50.21°N / 15.83°E\u00a0\u00a0\u00a0237m. n. m.", "titleX": -45.3, "titleY": -27.8, "titleAlign": "left", "titleBaseline": "alphabetic", "titleFontSize": 13, "titleColor": "#111111"}},
  "y": {"field": "h", "type": "quantitative", "scale": {"domain": [-2.4, 103.7], "nice": false, "zero": false}, "axis": null}}},
{"mark": {"type": "point", "opacity": 0},
 "encoding": {"x": {"field": "d", "type": "temporal", "scale": {"type": "utc", "domain": [1451606400000, 1483228800000]}, "axis": {"orient": "top", "domain": false, "ticks": false, "labels": false, "title": "(12 x 12 km)", "titleX": -45.3, "titleY": -13.3, "titleAlign": "left", "titleBaseline": "alphabetic", "titleFontSize": 11, "titleColor": "#111111"}},
  "y": {"field": "h", "type": "quantitative", "scale": {"domain": [-2.4, 103.7], "nice": false, "zero": false}, "axis": null}}}
]
}
]
}
